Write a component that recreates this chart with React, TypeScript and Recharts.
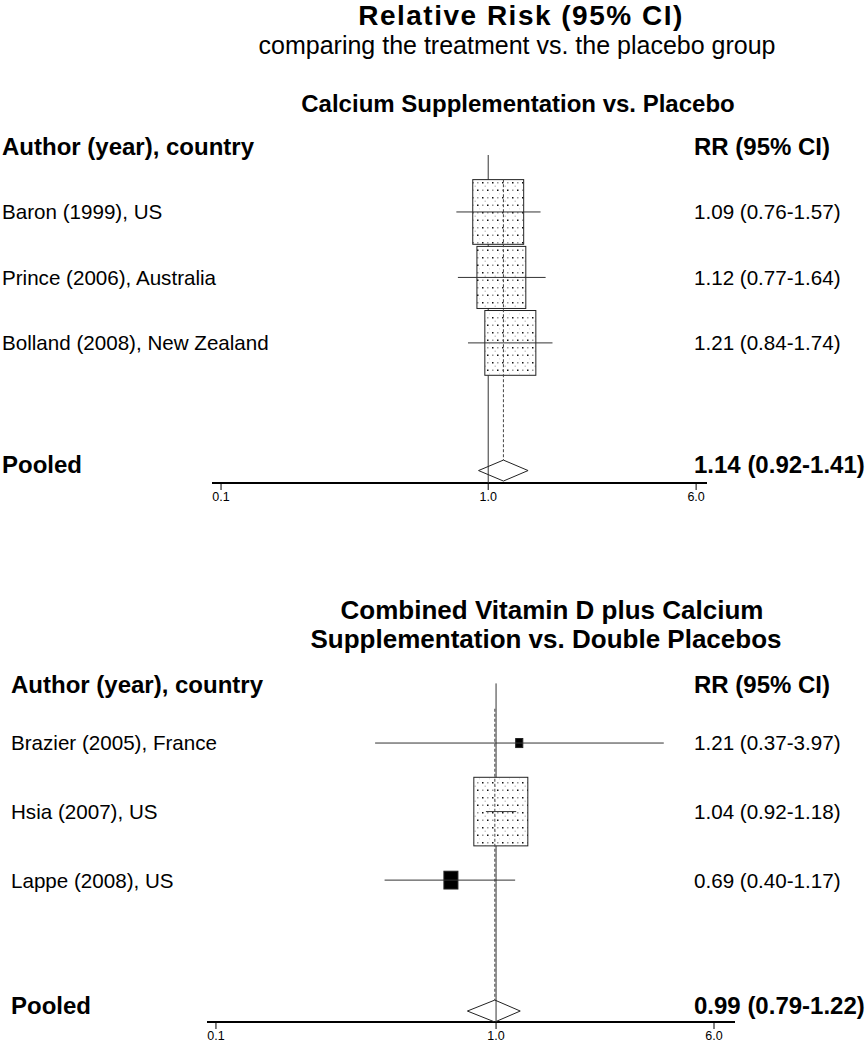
import { ComposedChart, Scatter, XAxis, YAxis, ZAxis } from 'recharts';

// calcium vs placebo
const calciumStudies = ['Baron (1999), US', 'Prince (2006), Australia', 'Bolland (2008), New Zealand'];
const calciumRR = [1.09, 1.12, 1.21];
const calciumLow = [0.76, 0.77, 0.84];
const calciumHigh = [1.57, 1.64, 1.74];
const calciumWeight = [34.2, 31.5, 34.3];
const calciumPooled = [1.14, 0.92, 1.41];

// vitamin D + calcium vs double placebo
const combinedStudies = ['Brazier (2005), France', 'Hsia (2007), US', 'Lappe (2008), US'];
const combinedRR = [1.21, 1.04, 0.69];
const combinedLow = [0.37, 0.92, 0.4];
const combinedHigh = [3.97, 1.18, 1.17];
const combinedWeight = [1.6, 92.2, 6.2];
const combinedPooled = [0.99, 0.79, 1.22];

const axisTicks = [0.1, 1, 6];

const FONT = '"Liberation Sans", Arial, Helvetica, sans-serif';

const fmt = (v: number, lo: number, hi: number) => `${v.toFixed(2)} (${lo.toFixed(2)}-${hi.toFixed(2)})`;

const noDot = () => <g />;

const BoxShape = (p: any) => {
    const w = p.width ?? 2 * Math.sqrt((p.size || 0) / Math.PI);
    const h = w * 1.27;
    const small = w < 20;
    return (
        <rect
            x={p.cx - w / 2}
            y={p.cy - h / 2}
            width={w}
            height={h}
            fill={small ? '#000' : 'url(#stipple)'}
            stroke="#222"
            strokeWidth={1}
        />
    );
};

interface Frame {
    top: number;
    height: number;
    marginTop: number;
    marginBottom: number;
    left: number;
    right: number;
    xDomain: [number, number];
    headerRow: number;
    pooledRow: number;
    axisRow: number;
    maxArea: number;
    textLeft: number;
}

interface PanelProps {
    studies: string[];
    rr: number[];
    low: number[];
    high: number[];
    weight: number[];
    pooled: number[];
    frame: Frame;
}

function ForestPanel({ studies, rr, low, high, weight, pooled, frame }: PanelProps) {
    const boxes = studies.map((_, i) => ({ x: rr[i], y: i + 1, w: weight[i] }));
    const [pEst, pLow, pHigh] = pooled;
    const py = frame.pooledRow;
    const dh = 0.16;
    const diamond = [
        { x: pLow, y: py },
        { x: pEst, y: py - dh },
        { x: pHigh, y: py },
        { x: pEst, y: py + dh },
        { x: pLow, y: py },
    ];
    const nullLine = [
        { x: 1, y: 0.13 },
        { x: 1, y: frame.axisRow },
    ];
    const pooledLine = [
        { x: pEst, y: 0.5 },
        { x: pEst, y: py - dh },
    ];

    const tickRows = [frame.headerRow, 1, 2, 3, py];
    const leftLabels = ['Author (year), country', ...studies, 'Pooled'];
    const rightLabels = ['RR (95% CI)', ...rr.map((v, i) => fmt(v, low[i], high[i])), fmt(pEst, pLow, pHigh)];

    const labelTick = (labels: string[], x: number) => (p: any) => {
        const i = p.index;
        const bold = i === 0 || i === labels.length - 1;
        return (
            <text
                x={x}
                y={p.y + (i === labels.length - 1 ? -6 : 0)}
                dy="0.36em"
                textAnchor="start"
                fontFamily={FONT}
                fontSize={bold ? 24 : 20.6}
                fontWeight={bold ? 700 : 400}
                fill="#000"
            >
                {labels[i]}
            </text>
        );
    };

    return (
        <div style={{ position: 'absolute', left: 0, top: frame.top }}>
            <ComposedChart
                width={865}
                height={frame.height}
                margin={{ top: frame.marginTop, bottom: frame.marginBottom, left: 0, right: 0 }}
            >
                <XAxis
                    type="number"
                    dataKey="x"
                    scale="log"
                    domain={frame.xDomain}
                    allowDataOverflow
                    ticks={axisTicks}
                    interval={0}
                    tickFormatter={(v: number) => v.toFixed(1)}
                    height={20}
                    tickSize={7}
                    axisLine={{ stroke: '#000', strokeWidth: 2 }}
                    tickLine={{ stroke: '#000' }}
                    tick={{ fontSize: 12.5, fill: '#000', fontFamily: FONT }}
                />
                <YAxis
                    yAxisId="left"
                    type="number"
                    dataKey="y"
                    reversed
                    domain={[0, frame.axisRow]}
                    allowDataOverflow
                    ticks={tickRows}
                    interval={0}
                    width={frame.left}
                    axisLine={false}
                    tickLine={false}
                    tick={labelTick(leftLabels, frame.textLeft)}
                />
                <YAxis
                    yAxisId="right"
                    orientation="right"
                    type="number"
                    dataKey="y"
                    reversed
                    domain={[0, frame.axisRow]}
                    allowDataOverflow
                    ticks={tickRows}
                    interval={0}
                    width={frame.right}
                    axisLine={false}
                    tickLine={false}
                    tick={labelTick(rightLabels, 694)}
                />
                <ZAxis dataKey="w" type="number" domain={[0, 'dataMax']} range={[0, frame.maxArea]} />
                <Scatter
                    yAxisId="left"
                    data={nullLine}
                    line={{ stroke: '#333', strokeWidth: 1 }}
                    shape={noDot}
                    isAnimationActive={false}
                />
                <Scatter yAxisId="left" data={boxes} shape={BoxShape} isAnimationActive={false} />
                <Scatter
                    yAxisId="left"
                    data={pooledLine}
                    line={{ stroke: '#444', strokeWidth: 1, strokeDasharray: '3 2' }}
                    shape={noDot}
                    isAnimationActive={false}
                />
                {studies.map((_, i) => (
                    <Scatter
                        key={i}
                        yAxisId="left"
                        data={[
                            { x: low[i], y: i + 1 },
                            { x: high[i], y: i + 1 },
                        ]}
                        line={{ stroke: '#333', strokeWidth: 1 }}
                        shape={noDot}
                        isAnimationActive={false}
                    />
                ))}
                <Scatter
                    yAxisId="left"
                    data={diamond}
                    line={{ stroke: '#222', strokeWidth: 1 }}
                    shape={noDot}
                    isAnimationActive={false}
                />
            </ComposedChart>
        </div>
    );
}

const title = (text: string, cx: number, cy: number, size: number, bold: boolean, spacing = 0) => (
    <div
        style={{
            position: 'absolute',
            left: cx - 400,
            width: 800,
            top: cy - size / 2,
            lineHeight: `${size}px`,
            fontSize: size,
            fontWeight: bold ? 700 : 400,
            fontFamily: FONT,
            letterSpacing: spacing,
            textAlign: 'center',
            whiteSpace: 'nowrap',
            color: '#000',
        }}
    >
        {text}
    </div>
);

export default function App() {
    return (
        <div style={{ position: 'absolute', left: 0, top: 0, width: 865, height: 1050, background: '#fff' }}>
            <svg width={0} height={0} style={{ position: 'absolute' }}>
                <defs>
                    <pattern id="stipple" width={10} height={15} patternUnits="userSpaceOnUse">
                        <rect width={10} height={15} fill="#fff" />
                        <rect x={2} y={2} width={1.5} height={1.5} fill="#111" />
                        <rect x={7} y={2} width={1.5} height={1.5} fill="#999" />
                        <rect x={2} y={9.5} width={1.5} height={1.5} fill="#999" />
                        <rect x={7} y={9.5} width={1.5} height={1.5} fill="#111" />
                        <rect x={4.5} y={5.5} width={1.5} height={1.5} fill="#ccc" />
                        <rect x={9.5} y={13} width={1.5} height={1.5} fill="#ccc" />
                    </pattern>
                </defs>
            </svg>
            {title('Relative Risk (95% CI)', 521, 16, 28, true, 1.5)}
            {title('comparing the treatment vs. the placebo group', 517, 45, 25, false)}
            {title('Calcium Supplementation vs. Placebo', 518, 104, 24, true)}
            {title('Combined Vitamin D plus Calcium', 552, 610, 26, true)}
            {title('Supplementation vs. Double Placebos', 546, 639, 26, true)}
            <ForestPanel
                studies={calciumStudies}
                rr={calciumRR}
                low={calciumLow}
                high={calciumHigh}
                weight={calciumWeight}
                pooled={calciumPooled}
                frame={{
                    top: 0,
                    height: 540,
                    marginTop: 146.5,
                    marginBottom: 37,
                    left: 212,
                    right: 158,
                    xDomain: [0.0925, 6.59],
                    headerRow: 0,
                    pooledRow: 4.95,
                    axisRow: 5.14,
                    maxArea: 2043,
                    textLeft: 2,
                }}
            />
            <ForestPanel
                studies={combinedStudies}
                rr={combinedRR}
                low={combinedLow}
                high={combinedHigh}
                weight={combinedWeight}
                pooled={combinedPooled}
                frame={{
                    top: 540,
                    height: 510,
                    marginTop: 134.5,
                    marginBottom: 8,
                    left: 207,
                    right: 130,
                    xDomain: [0.0929, 7.13],
                    headerRow: 0.15,
                    pooledRow: 4.91,
                    axisRow: 5.07,
                    maxArea: 2290,
                    textLeft: 11,
                }}
            />
        </div>
    );
}
